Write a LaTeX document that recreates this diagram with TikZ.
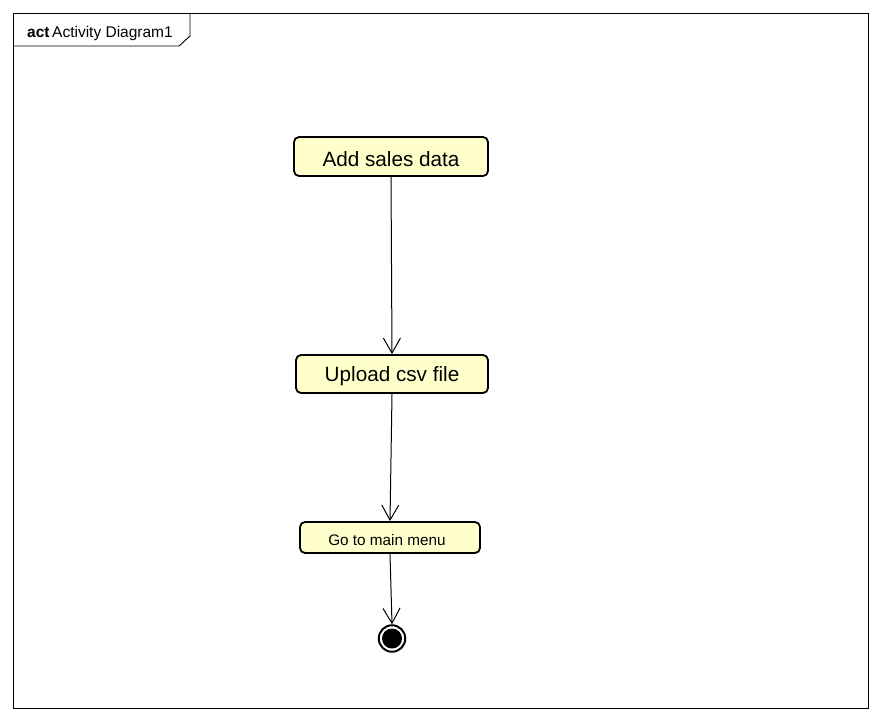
\documentclass[tikz,border=0pt]{standalone}
\usepackage{fontspec}
\setmainfont{Liberation Sans}
\usetikzlibrary{arrows.meta}
\definecolor{actfill}{HTML}{FFFFCC}
% place a label so that its baseline sits #1 below the node centre
\newcommand{\baselineat}[2]{\smash{\raisebox{-#1}{#2}}}
\tikzset{
  x=1pt, y=-1pt,
  action/.style={draw=black, line width=1.8pt, fill=actfill, rounded corners=5pt,
    inner sep=0pt, anchor=center},
  flow/.style={draw=black, line width=1pt, -{Straight Barb[length=15pt,width=17pt,line width=1pt]}},
}
\begin{document}
\begin{tikzpicture}
\useasboundingbox (0,0) rectangle (882,721);
\fill[white] (0,0) rectangle (882,721);
% frame with name tab
\draw[line width=0.9pt] (13,13) rectangle (868,708);
\draw[line width=0.9pt] (13,46) -- (179,46) -- (190,36) -- (190,13);
\node[anchor=base west, inner sep=0pt, font=\fontsize{15.5}{18}\selectfont] (title) at (27,37)
  {\textbf{act}\,Activity Diagram1};
% actions
\node[action, minimum width=194pt, minimum height=39pt, font=\fontsize{20.7}{24}\selectfont]
  (add) at (391,156.5) {\baselineat{9.5pt}{Add sales data}};
\node[action, minimum width=192pt, minimum height=38pt, font=\fontsize{20.7}{24}\selectfont]
  (upload) at (392,374) {\baselineat{7.8pt}{Upload csv file}};
\node[action, minimum width=180pt, minimum height=31pt, font=\fontsize{15.3}{18}\selectfont]
  (menu) at (390,537.5) {\hspace*{-6pt}\baselineat{7.5pt}{Go to main menu}};
% final node
\node[circle, draw=black, line width=2pt, fill=white, minimum size=26.5pt, inner sep=0pt]
  (final) at (392,638.5) {};
\fill[black] (final.center) circle (10pt);
% control flows
\draw[flow] (add.south) -- (upload.north);
\draw[flow] (upload.south) -- (menu.north);
\draw[flow] (menu.south) -- (final.north);
\end{tikzpicture}
\end{document}
